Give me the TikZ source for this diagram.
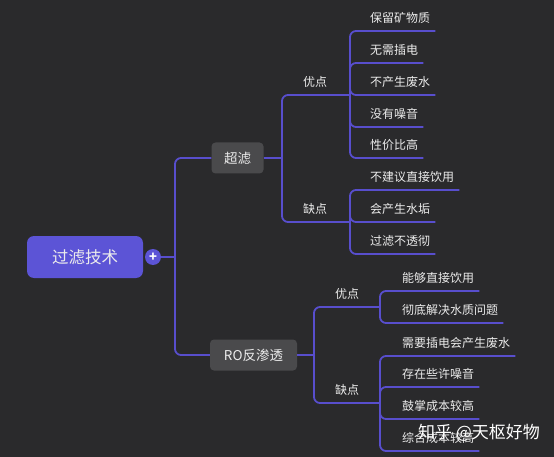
\documentclass[tikz,border=0pt]{standalone}
\usepackage{fontspec}
\setmainfont{Noto Sans CJK SC}
\usetikzlibrary{positioning,calc}
\definecolor{BgDark}{RGB}{42,42,44}
\definecolor{LinkPurple}{RGB}{88,78,205}
\definecolor{RootPurple}{RGB}{92,84,214}
\definecolor{BoxGray}{RGB}{74,74,76}
\definecolor{TextWhite}{RGB}{236,236,236}
\tikzset{
  link/.style={draw=LinkPurple,line width=1.8pt,rounded corners=6pt},
  rootbox/.style={fill=RootPurple,rounded corners=7pt,minimum width=116pt,
    minimum height=42pt,text=TextWhite,font=\fontsize{16.5}{18}\selectfont},
  topicbox/.style={fill=BoxGray,rounded corners=4pt,minimum height=31pt,
    inner xsep=0pt,text=TextWhite,font=\fontsize{13.5}{15}\selectfont},
  plusdot/.style={circle,fill=RootPurple,minimum size=16pt,inner sep=0pt,
    text=white,font=\fontsize{13}{13}\selectfont\bfseries},
  leaf/.style={anchor=south west,inner sep=0pt,text height=11pt,text depth=8pt,
    text=TextWhite,font=\fontsize{12}{14}\selectfont},
  tag/.style={leaf,anchor=south},
  watermark/.style={text=white,font=\fontsize{17}{19}\selectfont}
}
\begin{document}
\begin{tikzpicture}[x=1pt,y=-1pt]
  \useasboundingbox[fill=BgDark] (0,0) rectangle (554,457);

  % root and first level
  \node[rootbox] (root) at (85,257) {过滤技术};
  \node[plusdot] (plus) at (153,257) {+};
  \node[topicbox,minimum width=52pt] (chao) at (237.5,158) {超滤};
  \node[topicbox,minimum width=87pt] (ro) at (253.5,355) {RO反渗透};
  \coordinate (rootJ) at (175,257);
  \draw[link] (plus.east) -- (rootJ);
  \draw[link] (rootJ) |- (chao.west);
  \draw[link] (rootJ) |- (ro.west);

  % 超滤
  \coordinate (chaoJ) at (282,158);
  \coordinate (cyJ) at (350,95);
  \coordinate (cqJ) at (350,222);
  \node[tag] (cy) at (315,95) {优点};
  \node[tag] (cq) at (315,222) {缺点};
  \draw[link] (chao.east) -- (chaoJ);
  \draw[link] (chaoJ) |- (cyJ);
  \draw[link] (chaoJ) |- (cqJ);

  \node[leaf] (cy1) at (370,31) {保留矿物质};
  \node[leaf] (cy2) at (370,63) {无需插电};
  \node[leaf] (cy3) at (370,95) {不产生废水};
  \node[leaf] (cy4) at (370,127) {没有噪音};
  \node[leaf] (cy5) at (370,158) {性价比高};
  \draw[link] (cyJ) |- ([xshift=5pt]cy1.south east);
  \draw[link] (cyJ) |- ([xshift=5pt]cy2.south east);
  \draw[link] (cyJ) |- ([xshift=5pt]cy3.south east);
  \draw[link] (cyJ) |- ([xshift=5pt]cy4.south east);
  \draw[link] (cyJ) |- ([xshift=5pt]cy5.south east);

  \node[leaf] (cq1) at (370,190) {不建议直接饮用};
  \node[leaf] (cq2) at (370,222) {会产生水垢};
  \node[leaf] (cq3) at (370,254) {过滤不透彻};
  \draw[link] (cqJ) |- ([xshift=5pt]cq1.south east);
  \draw[link] (cqJ) |- ([xshift=5pt]cq2.south east);
  \draw[link] (cqJ) |- ([xshift=5pt]cq3.south east);

  % RO反渗透
  \coordinate (roJ) at (314,355);
  \coordinate (ryJ) at (380,307);
  \coordinate (rqJ) at (380,403);
  \node[tag] (ry) at (347,307) {优点};
  \node[tag] (rq) at (347,403) {缺点};
  \draw[link] (ro.east) -- (roJ);
  \draw[link] (roJ) |- (ryJ);
  \draw[link] (roJ) |- (rqJ);

  \node[leaf] (ry1) at (402,291) {能够直接饮用};
  \node[leaf] (ry2) at (402,323) {彻底解决水质问题};
  \draw[link] (ryJ) |- ([xshift=5pt]ry1.south east);
  \draw[link] (ryJ) |- ([xshift=5pt]ry2.south east);

  \node[leaf] (rq1) at (402,356) {需要插电会产生废水};
  \node[leaf] (rq2) at (402,387) {存在些许噪音};
  \node[leaf] (rq3) at (402,419) {鼓掌成本较高};
  \node[leaf] (rq4) at (402,451) {综合成本较高};
  \draw[link] (rqJ) |- ([xshift=5pt]rq1.south east);
  \draw[link] (rqJ) |- ([xshift=5pt]rq2.south east);
  \draw[link] (rqJ) |- ([xshift=5pt]rq3.south east);
  \draw[link] (rqJ) |- ([xshift=5pt]rq4.south east);

  \node[watermark] (mark) at (479,433) {知乎 @天枢好物};
\end{tikzpicture}
\end{document}
